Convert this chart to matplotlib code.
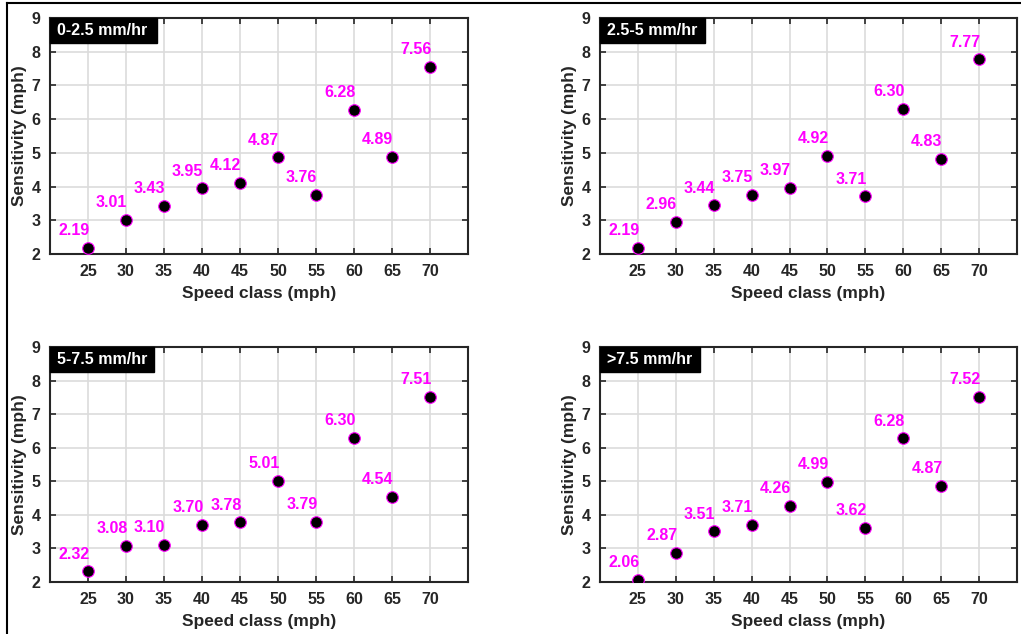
import numpy as np
import matplotlib
matplotlib.use("Agg")
import matplotlib.pyplot as plt
from matplotlib.lines import Line2D
from matplotlib.patches import Rectangle

plt.rcParams['font.family'] = ['Liberation Sans', 'DejaVu Sans']
plt.rcParams['font.weight'] = 'bold'

speed = [25, 30, 35, 40, 45, 50, 55, 60, 65, 70]
titles = ["0-2.5 mm/hr", "2.5-5 mm/hr", "5-7.5 mm/hr", ">7.5 mm/hr"]
sens_1 = [2.19, 3.01, 3.43, 3.95, 4.12, 4.87, 3.76, 6.28, 4.89, 7.56]
sens_2 = [2.19, 2.96, 3.44, 3.75, 3.97, 4.92, 3.71, 6.30, 4.83, 7.77]
sens_3 = [2.32, 3.08, 3.10, 3.70, 3.78, 5.01, 3.79, 6.30, 4.54, 7.51]
sens_4 = [2.06, 2.87, 3.51, 3.71, 4.26, 4.99, 3.62, 6.28, 4.87, 7.52]
all_sens = [sens_1, sens_2, sens_3, sens_4]

W, H = 1021, 634
fig = plt.figure(figsize=(W / 100, H / 100), dpi=100)

# axes boxes in pixels: left, top, right, bottom
boxes = [(50, 18, 468, 254), (600, 18, 1017, 254),
         (50, 347, 468, 582), (600, 347, 1017, 582)]
box_w = [107, 105, 104, 100]
dark = '#262626'

for i in range(4):
    l, t, r, b = boxes[i]
    aw, ah = r - l, b - t
    ax = fig.add_axes([l / W, 1 - b / H, aw / W, ah / H])
    ax.scatter(speed, all_sens[i], s=70, c='black', edgecolors='magenta',
               linewidths=0.8, zorder=3)
    for x, y in zip(speed, all_sens[i]):
        ax.annotate("%.2f" % y, (x, y), xytext=(1, 7), textcoords='offset points',
                    ha='right', va='bottom', color='magenta', fontsize=11.5,
                    fontweight='bold')
    ax.set_xlim(20, 75)
    ax.set_ylim(2, 9)
    ax.set_xticks(speed)
    ax.set_yticks(range(2, 10))
    ax.grid(True, color='#dcdcdc', linewidth=1.2)
    ax.set_axisbelow(True)
    ax.tick_params(direction='in', top=True, right=True, length=4,
                   labelsize=11.5, colors=dark, width=1.2, pad=7)
    for lab in ax.get_xticklabels() + ax.get_yticklabels():
        lab.set_fontweight('bold')
    for sp in ax.spines.values():
        sp.set_color(dark)
        sp.set_linewidth(1.5)
    ax.set_xlabel("Speed class (mph)", fontsize=12.5, fontweight='bold', color=dark,
                  labelpad=5)
    ax.set_ylabel("Sensitivity (mph)", fontsize=12.5, fontweight='bold', color=dark,
                  labelpad=3)
    # black title box in the top-left corner
    bw = box_w[i] / aw
    bh = 25 / ah
    ax.add_patch(Rectangle((0, 1 - bh), bw, bh, transform=ax.transAxes,
                           facecolor='black', edgecolor='black', zorder=5,
                           clip_on=False))
    ax.text(7 / aw, 1 - bh / 2, titles[i], transform=ax.transAxes, ha='left',
            va='center', color='white', fontsize=11.5, fontweight='bold', zorder=6)

# outer frame lines (top and left)
fig.add_artist(Line2D([7 / W, 1], [1 - 3 / H, 1 - 3 / H], color='black', linewidth=1.5,
                      transform=fig.transFigure))
fig.add_artist(Line2D([7 / W, 7 / W], [0, 1 - 3 / H], color='black', linewidth=1.5,
                      transform=fig.transFigure))

fig.savefig("out.png", dpi=100)
